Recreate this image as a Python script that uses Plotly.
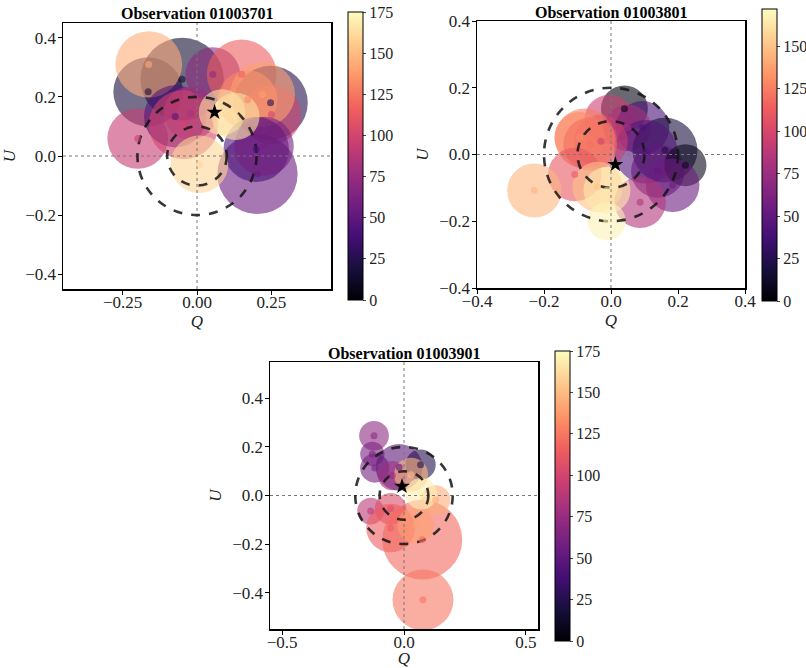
import plotly.graph_objects as go
from plotly.colors import sample_colorscale, sequential

# ---------------- data ----------------
titles = ["Observation 01003701", "Observation 01003801", "Observation 01003901"]

# Panel 1 (01003701)
q1 = [-0.050, -0.164, -0.162, -0.199, -0.073, -0.022, -0.045, 0.053, 0.150, 0.247, 0.250,
      0.170, 0.220, 0.203, 0.199, 0.225, 0.008, 0.084, 0.130]
u1 = [0.260, 0.217, 0.310, 0.059, 0.134, 0.145, 0.106, 0.276, 0.277, 0.180, 0.140,
      0.190, 0.208, -0.061, 0.022, 0.033, -0.028, 0.148, 0.134]
r1 = [0.140, 0.117, 0.112, 0.102, 0.105, 0.090, 0.117, 0.092, 0.117, 0.125, 0.100,
      0.100, 0.109, 0.135, 0.110, 0.100, 0.097, 0.078, 0.080]
pa1 = [15, 20, 145, 95, 45, 82, 100, 70, 115, 25, 100,
       130, 140, 55, 40, 60, 160, 165, 165]
star1 = (0.059, 0.148)

# Panel 2 (01003801)
q2 = [0.040, -0.005, 0.094, 0.050, 0.161, 0.104, 0.140, 0.222, 0.184, 0.087, -0.030,
      -0.078, -0.094, -0.062, -0.108, -0.229, -0.040, -0.012, -0.013]
u2 = [0.137, 0.105, 0.080, 0.080, 0.013, 0.008, -0.050, -0.032, -0.092, -0.143, 0.040,
      0.048, 0.052, 0.031, -0.060, -0.108, -0.097, -0.107, -0.200]
r2 = [0.070, 0.074, 0.080, 0.070, 0.097, 0.095, 0.080, 0.063, 0.080, 0.077, 0.080,
      0.090, 0.075, 0.080, 0.080, 0.081, 0.075, 0.070, 0.057]
pa2 = [5, 95, 40, 80, 20, 45, 50, 8, 55, 85, 95,
       125, 130, 120, 110, 145, 150, 165, 168]
star2 = (0.013, -0.030)

# Panel 3 (01003901)
q3 = [-0.123, -0.130, -0.120, -0.020, 0.068, -0.048, 0.029, -0.137, -0.055, -0.055,
      0.075, 0.078, 0.048, 0.130, 0.071]
u3 = [0.246, 0.171, 0.113, 0.116, 0.127, 0.082, 0.086, -0.064, -0.055, -0.134,
      -0.182, -0.430, -0.123, -0.018, 0.007]
r3 = [0.061, 0.050, 0.060, 0.096, 0.062, 0.060, 0.070, 0.055, 0.065, 0.100,
      0.164, 0.125, 0.075, 0.060, 0.065]
pa3 = [70, 62, 60, 50, 25, 78, 150, 90, 105, 115,
       120, 125, 140, 145, 170]
star3 = (-0.008, 0.038)

cmaxes = [175, 172, 175]
ranges = [0.45, 0.40, 0.55]
xticks = [[-0.25, 0.0, 0.25], [-0.4, -0.2, 0.0, 0.2, 0.4], [-0.5, 0.0, 0.5]]
xfmt = [".2f", ".1f", ".1f"]
yticks = [[-0.4, -0.2, 0.0, 0.2, 0.4]] * 3
cbticks = [[0, 25, 50, 75, 100, 125, 150, 175], [0, 25, 50, 75, 100, 125, 150],
           [0, 25, 50, 75, 100, 125, 150, 175]]
ref_radii = [0.1, 0.2]

# ---------------- layout geometry (screen pixels) ----------------
W, H = 806, 668
boxes = [(63, 331, 23, 289), (477, 745, 21, 288), (270, 538, 362, 629)]
cbars = [(348, 12, 300), (762, 9, 301), (555, 351, 641)]
cbfont = [16, 16, 16]
title_y = [13, 12, 353]

FONT = "Liberation Serif"
ALPHA = 0.6
scale = sequential.Magma


def fx(px):
    return px / W


def fy(py):
    return 1 - py / H


panels = [(q1, u1, r1, pa1, star1), (q2, u2, r2, pa2, star2), (q3, u3, r3, pa3, star3)]

fig = go.Figure()
shapes = []
annotations = []

for i, (q, u, r, pa, star) in enumerate(panels):
    n = i + 1
    xa = "x" if n == 1 else f"x{n}"
    ya = "y" if n == 1 else f"y{n}"
    cmax = cmaxes[i]
    rng = ranges[i]
    # coloured error circles
    cols = sample_colorscale(scale, [v / cmax for v in pa])
    for qq, uu, rr, c in zip(q, u, r, cols):
        shapes.append(dict(type="circle", xref=xa, yref=ya, x0=qq - rr, x1=qq + rr,
                           y0=uu - rr, y1=uu + rr, fillcolor=c, opacity=ALPHA,
                           line=dict(width=0), layer="below"))
    # dotted zero lines
    shapes.append(dict(type="line", xref=xa, yref=ya, x0=-rng, x1=rng, y0=0, y1=0,
                       line=dict(color="#777777", width=1, dash="dot"), layer="below"))
    shapes.append(dict(type="line", xref=xa, yref=ya, x0=0, x1=0, y0=-rng, y1=rng,
                       line=dict(color="#777777", width=1, dash="dot"), layer="below"))
    # dashed reference circles
    for rr in ref_radii:
        shapes.append(dict(type="circle", xref=xa, yref=ya, x0=-rr, x1=rr, y0=-rr, y1=rr,
                           line=dict(color="rgba(20,20,20,0.85)", width=2.6, dash="dash"),
                           layer="below"))
    # centre dots (carry the colour bar)
    cx, cy0, cy1 = cbars[i]
    fig.add_trace(go.Scatter(
        x=q, y=u, mode="markers", xaxis=xa, yaxis=ya, showlegend=False, hoverinfo="skip",
        marker=dict(size=7, color=pa, colorscale="Magma", cmin=0, cmax=cmax, opacity=ALPHA,
                    line=dict(width=0),
                    colorbar=dict(x=fx(cx), xanchor="left", y=(fy(cy0) + fy(cy1)) / 2,
                                  yanchor="middle", len=(cy1 - cy0) / H, lenmode="fraction",
                                  thickness=15, thicknessmode="pixels",
                                  outlinecolor="black", outlinewidth=1,
                                  tickvals=cbticks[i], ticks="outside", ticklen=3,
                                  tickfont=dict(family=FONT, size=cbfont[i], color="#222"),
                                  xpad=0, ypad=0),
                    showscale=True)))
    # weighted mean star
    fig.add_trace(go.Scatter(x=[star[0]], y=[star[1]], mode="markers", xaxis=xa, yaxis=ya,
                             showlegend=False, hoverinfo="skip",
                             marker=dict(symbol="star", size=12, color="black")))
    x0, x1, y0, y1 = boxes[i]
    axcommon = dict(showgrid=False, zeroline=False, showline=True, linecolor="black",
                    linewidth=1.5, mirror=True, ticks="outside", ticklen=4, tickwidth=1,
                    tickcolor="black", automargin=False,
                    tickfont=dict(family=FONT, size=17, color="#222"))
    xkey = "xaxis" if n == 1 else f"xaxis{n}"
    ykey = "yaxis" if n == 1 else f"yaxis{n}"
    fig.update_layout(**{
        xkey: dict(domain=[fx(x0), fx(x1)], range=[-rng, rng], anchor=ya,
                   tickvals=xticks[i], tickformat=xfmt[i], ticklabelstandoff=-7,
                   title=dict(text="<i>Q</i>", font=dict(family=FONT, size=17, color="#222"),
                              standoff=4), **axcommon),
        ykey: dict(domain=[fy(y1), fy(y0)], range=[-rng, rng], anchor=xa,
                   tickvals=yticks[i], tickformat=".1f", ticklabelstandoff=-2,
                   title=dict(text="<i>U</i>", font=dict(family=FONT, size=17, color="#222"),
                              standoff=6), **axcommon),
    })
    annotations.append(dict(text=f"<b>{titles[i]}</b>", xref="paper", yref="paper",
                            x=(fx(x0) + fx(x1)) / 2, y=fy(title_y[i]), xanchor="center",
                            yanchor="middle", showarrow=False,
                            font=dict(family=FONT, size=16, color="black")))

fig.update_layout(width=W, height=H,
                  margin=dict(l=0, r=0, t=0, b=0, autoexpand=False),
                  plot_bgcolor="white", paper_bgcolor="white", hovermode=False,
                  shapes=shapes, annotations=annotations)

fig.write_html("out.html", config={"displayModeBar": False, "staticPlot": True},
               post_script="document.body.style.margin='0';"
                           "document.body.style.overflow='hidden';")
